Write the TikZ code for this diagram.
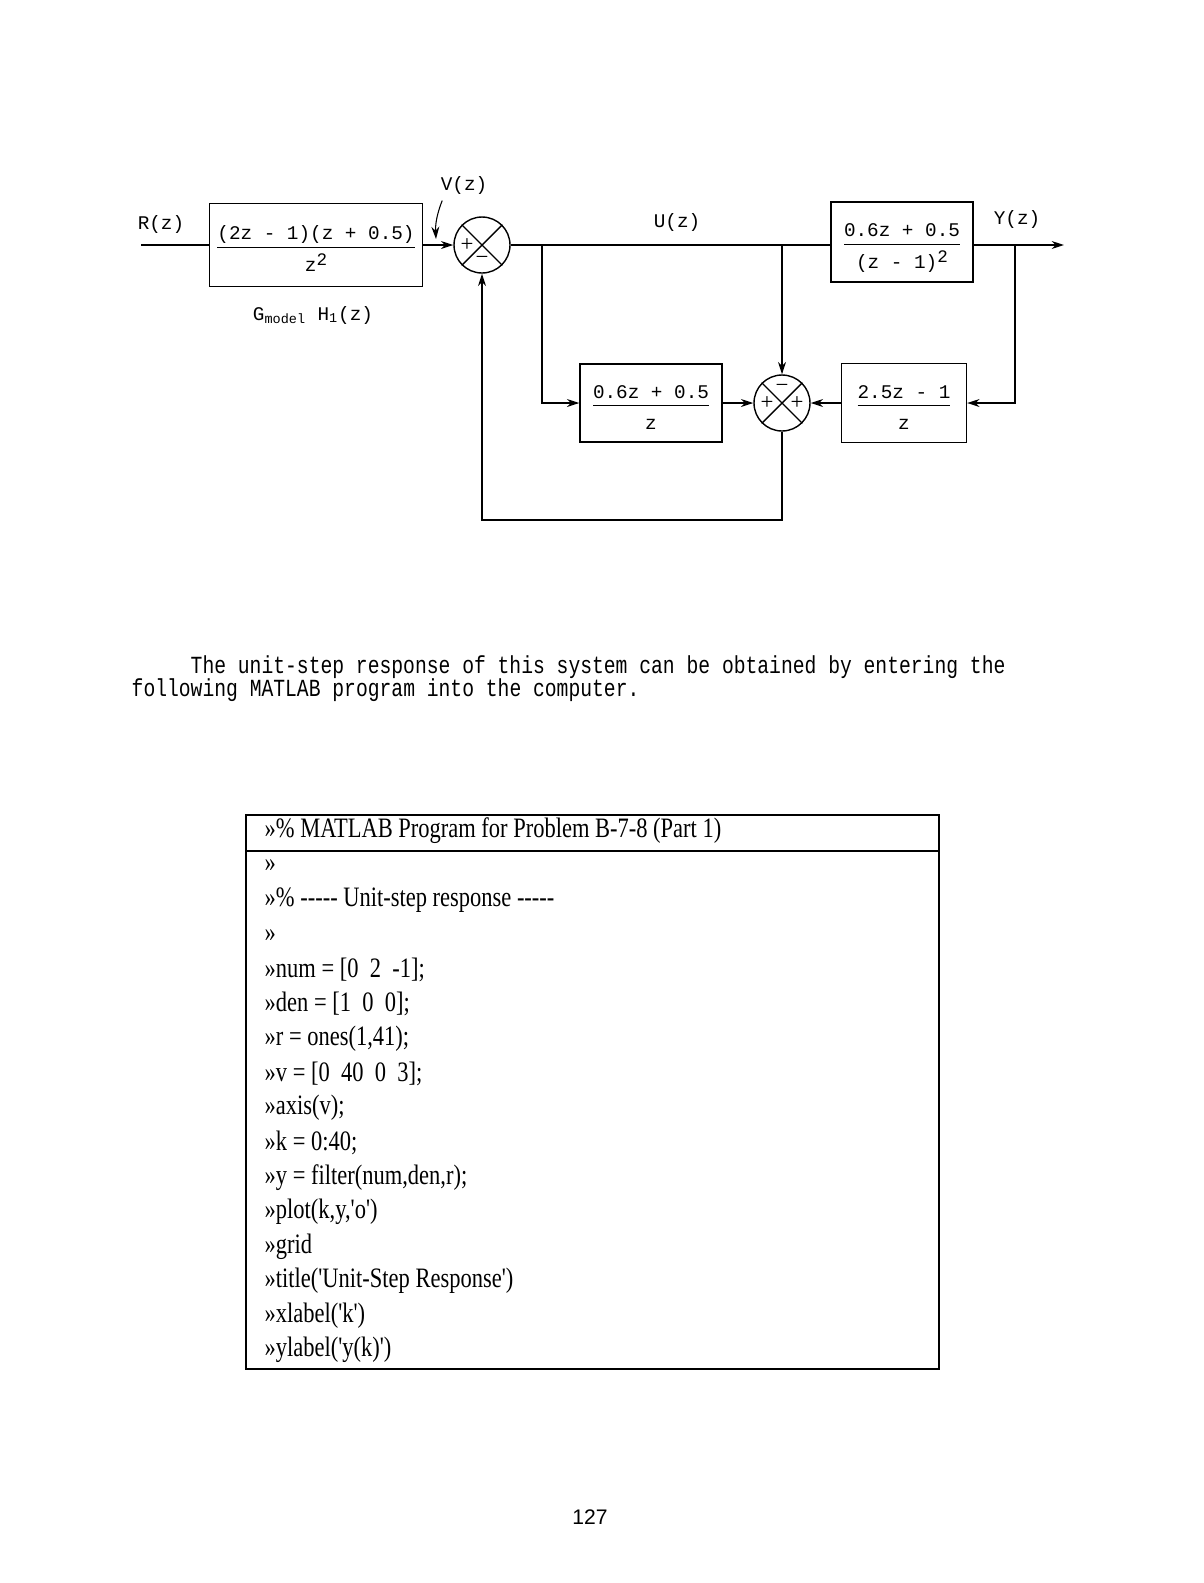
\documentclass[tikz,border=0pt]{standalone}
\usepackage{fontspec}
\setmainfont{Liberation Serif}
\setmonofont{Liberation Mono}
\newfontfamily\pgfont{Liberation Sans}
\usepackage{graphicx}
\usepackage{tikz}
\usetikzlibrary{positioning,arrows.meta}
\setlength{\arrayrulewidth}{0.9pt}
\newcommand{\fr}[2]{\begin{tabular}{@{}c@{}}\rule{0pt}{16pt}#1\\[0pt]\hline\rule{0pt}{13pt}#2\end{tabular}}
\newcommand{\sq}{\raisebox{0.55ex}{\fontsize{10}{12}\selectfont 2}}
\newcommand{\nar}[1]{\scalebox{0.8}[1]{#1}}
\newcommand{\q}{\textquotesingle}

\begin{document}
\begin{tikzpicture}[x=0.02cm, y=-0.02cm, >={Stealth[length=7pt,width=4.5pt]}, line width=0.8pt,
    font=\ttfamily\fontsize{11}{13}\selectfont,
    blk/.style={draw, inner sep=0pt},
    sum/.style={draw, circle, minimum size=1.12cm, inner sep=0pt},
    sgn/.style={inner sep=0pt, font=\rmfamily\fontsize{13}{15}\selectfont},
    code/.style={anchor=west, inner sep=0pt, font=\rmfamily\fontsize{16}{18}\selectfont},
    prog/.style={draw, line width=1.2pt, minimum width=13.86cm, inner sep=0pt}]
  \useasboundingbox (0,0) rectangle (1204,1583);

  % blocks and summing points
  \node[blk, minimum width=4.26cm, minimum height=1.66cm] (b1) at (316,245)
    {\fr{(2z - 1)(z + 0.5)}{z\sq}};
  \node[sum] (s1) at (482,245) {};
  \node[blk, minimum width=2.84cm, minimum height=1.6cm] (b3) at (902,242)
    {\fr{0.6z + 0.5}{(z - 1)\sq}};
  \node[blk, minimum width=2.84cm, minimum height=1.56cm] (b2) at (651,403)
    {\fr{0.6z + 0.5}{z}};
  \node[sum] (s2) at (782,403) {};
  \node[blk, minimum width=2.5cm, minimum height=1.58cm] (b4) at (904,403)
    {\fr{2.5z - 1}{z}};

  \foreach \s in {s1,s2}
    \draw (\s.north west) -- (\s.south east) (\s.north east) -- (\s.south west);
  \node[sgn] (s1p) at ([xshift=-0.3cm]s1.center) {+};
  \node[sgn] (s1m) at ([yshift=-0.3cm]s1.center) {−};
  \node[sgn] (s2m) at ([yshift=0.3cm]s2.center) {−};
  \node[sgn] (s2l) at ([xshift=-0.3cm]s2.center) {+};
  \node[sgn] (s2r) at ([xshift=0.3cm]s2.center) {+};

  % signal labels
  \node (rz) at (161,224) {R(z)};
  \node (vz) at (464,185) {V(z)};
  \node (uz) at (677,222) {U(z)};
  \node (yz) at (1017,219) {Y(z)};
  \node (gm) at (313,315) {G\textsubscript{model} H\textsubscript{1}(z)};

  \coordinate (rin) at (141,245);
  \coordinate (vp) at (436,239);
  \coordinate (yo) at (1064,245);
  \coordinate (ua) at (542,245);
  \coordinate (ub) at (782,245);
  \coordinate (ya) at (1015,245);
  \coordinate (fb) at (482,520);

  \draw (rin) -- (b1);
  \draw[->] (b1) -- (s1);
  \draw (s1) -- (s1 -| b3.west);
  \draw[->] (b3.east |- s1) -- (yo);
  \draw[->] (ua) |- (b2);
  \draw[->] (ub) -- (s2);
  \draw[->] (ya) |- (b4);
  \draw[->] (b2) -- (s2);
  \draw[->] (b4) -- (s2);
  \draw[->] (s2) |- (fb) -- (s1);
  \draw[->, line width=0.6pt] ([xshift=0.16cm]vz.south west) .. controls (440,206) and (435,220) .. (vp);

  % text
  \node[anchor=west, inner sep=0pt, font=\ttfamily\fontsize{14}{16}\selectfont] (t1) at (190,667)
    {\nar{The unit-step response of this system can be obtained by entering the}};
  \node[anchor=west, inner sep=0pt, font=\ttfamily\fontsize{14}{16}\selectfont] (t2) at (131,690)
    {\nar{following MATLAB program into the computer.}};

  % program listing
  \node[prog, minimum height=0.72cm] (hdr) at (592.5,833) {};
  \node[prog, minimum height=10.36cm] (body) at (592.5,1110) {};
  \node[code] (htxt) at (264,831) {\nar{»\% MATLAB Program for Problem B-7-8 (Part 1)}};
  \foreach \t [count=\i from 0] in {%
    {»},
    {»\% -{}-{}-{}-{}- Unit-step response -{}-{}-{}-{}-},
    {»},
    {»num = [0~~2~~-1];},
    {»den = [1~~0~~0];},
    {»r = ones(1,41);},
    {»v = [0~~40~~0~~3];},
    {»axis(v);},
    {»k = 0:40;},
    {»y = filter(num,den,r);},
    {»plot(k,y,\q o\q)},
    {»grid},
    {»title(\q Unit-Step Response\q)},
    {»xlabel(\q k\q)},
    {»ylabel(\q y(k)\q)}}
    \node[code] (ln\i) at (264,{866+34.57*\i}) {\nar{\t}};

  \node[font=\pgfont\fontsize{12}{14}\selectfont] (pg) at (590,1517) {127};
\end{tikzpicture}
\end{document}
